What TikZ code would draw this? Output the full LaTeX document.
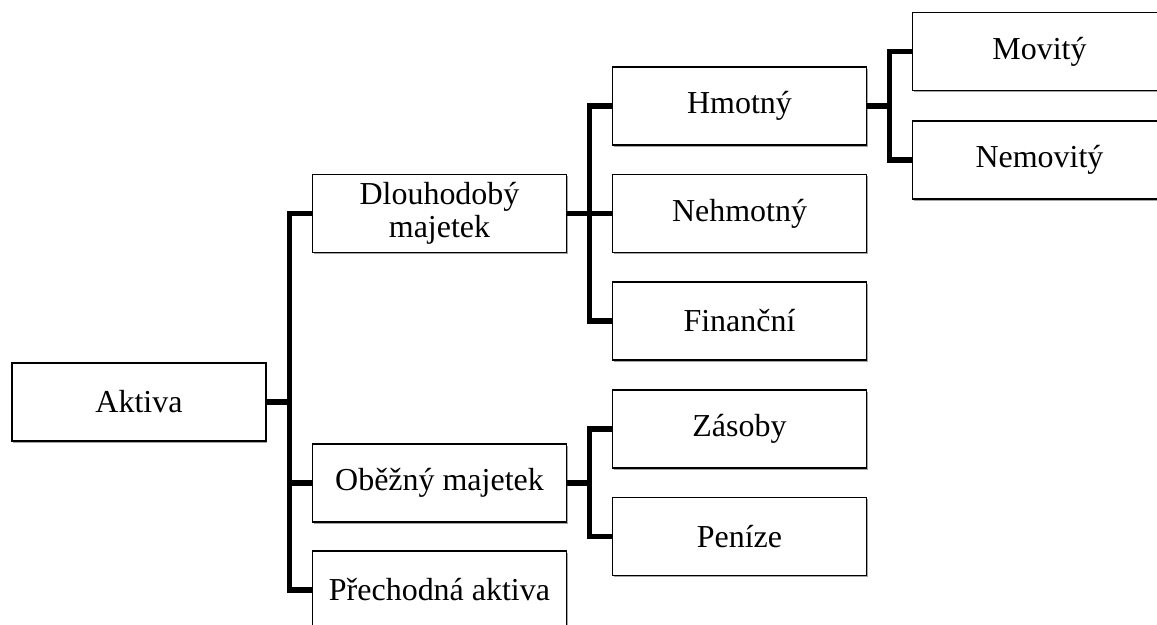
\documentclass[tikz,border=0pt]{standalone}
\usepackage{fontspec}
\setmainfont{Liberation Serif}
\usetikzlibrary{shadows}

\begin{document}
\begin{tikzpicture}[x=0.02cm,y=-0.02cm,
        box/.style={draw, fill=white, line width=1.1pt, minimum width=5.08cm,
            minimum height=1.56cm, align=center, inner sep=2pt,
            font=\fontsize{18.2}{19}\selectfont,
            drop shadow={shadow xshift=0.8pt, shadow yshift=-1.1pt, fill=black, opacity=0.35}},
        link/.style={line width=3.3pt}]
        \useasboundingbox (0,0) rectangle (1157,625);
        % boxes
        \node[box] (aktiva) at (139,402) {Aktiva};
        \node[box] (dlouh) at (439.5,213.5) {Dlouhodobý\\majetek};
        \node[box] (obez) at (439.5,483) {Oběžný majetek};
        \node[box] (prech) at (439.5,590) {Přechodná aktiva};
        \node[box] (hmot) at (739.5,106) {Hmotný};
        \node[box] (nehm) at (739.5,213.5) {Nehmotný};
        \node[box] (fin) at (739.5,321) {Finanční};
        \node[box] (zas) at (739.5,429) {Zásoby};
        \node[box] (pen) at (739.5,536.5) {Peníze};
        \node[box] (mov) at (1039.5,51.5) {Movitý};
        \node[box] (nemov) at (1039.5,160) {Nemovitý};
        % junctions
        \coordinate (j1) at (289.5,402);
        \coordinate (j2) at (589.5,213.5);
        \coordinate (j3) at (589.5,483);
        \coordinate (j4) at (889.5,106);
        % connectors
        \draw[link] (aktiva.east) -- (j1);
        \draw[link] (dlouh.west) -| (j1) |- (prech.west);
        \draw[link] (obez.west) -- (obez.west -| j1);
        \draw[link] (dlouh.east) -- (nehm.west);
        \draw[link] (hmot.west) -| (j2) |- (fin.west);
        \draw[link] (obez.east) -- (j3);
        \draw[link] (zas.west) -| (j3) |- (pen.west);
        \draw[link] (hmot.east) -- (j4);
        \draw[link] (mov.west) -| (j4) |- (nemov.west);
\end{tikzpicture}
\end{document}
